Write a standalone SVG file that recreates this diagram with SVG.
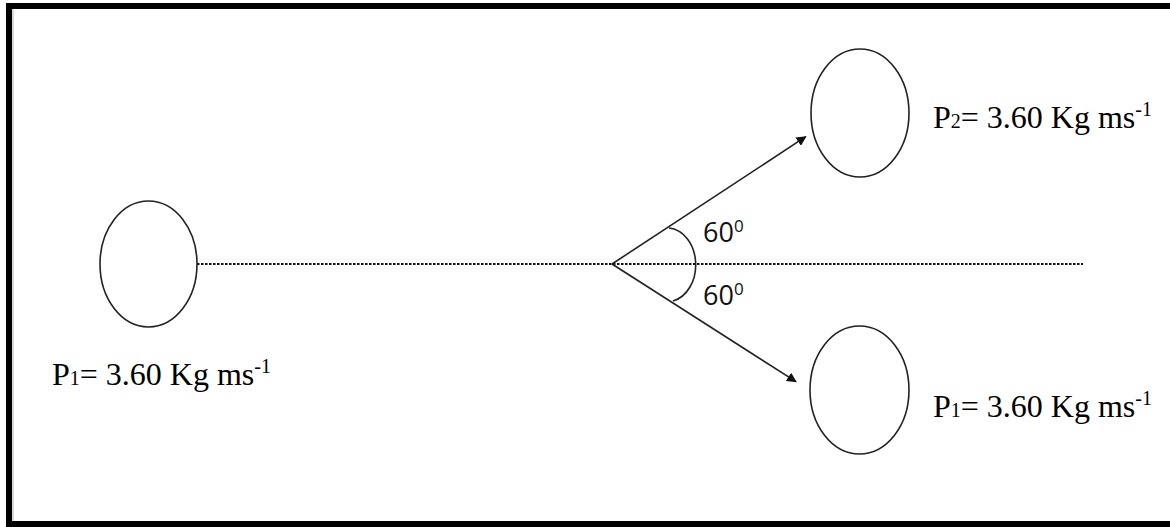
<svg xmlns="http://www.w3.org/2000/svg" width="1170" height="527" viewBox="0 0 1170 527">
<defs>
<style>
.ball{fill:none;stroke:#222;stroke-width:1.6}
.lbl{font-family:"Liberation Serif","Times New Roman",serif;font-size:32px;fill:#000}
.ang{font-family:"Open Sans","Liberation Sans",Arial,sans-serif;font-size:27px;fill:#111}
.line{stroke:#222;stroke-width:1.6;fill:none}
</style>
<marker id="arr" viewBox="0 0 10 10" refX="9" refY="5" markerWidth="10" markerHeight="10" markerUnits="userSpaceOnUse" orient="auto">
<path d="M0,0 L10,5 L0,10 z" fill="#111"/>
</marker>
</defs>
<rect width="1170" height="527" fill="#fff"/>
<g id="frame">
<rect x="6" y="3" width="1164" height="6" fill="#000"/>
<rect x="6" y="3" width="6" height="524" fill="#000"/>
<rect x="6" y="521" width="1164" height="6" fill="#000"/>
<line x1="13" y1="9" x2="13" y2="521" stroke="#ccc" stroke-width="1.5"/>
</g>
<g id="connectors">
<line x1="197" y1="264" x2="1083" y2="264" stroke="#111" stroke-width="1.8" stroke-dasharray="2.5,1.5"/>
<line class="line" x1="612" y1="264" x2="805.7" y2="136.7" marker-end="url(#arr)"/>
<line class="line" x1="612" y1="264" x2="796" y2="381.7" marker-end="url(#arr)"/>
<path class="line" d="M669,228 A29,37 0 0 1 673,301"/>
</g>
<g id="ball-left">
<ellipse class="ball" cx="148.5" cy="264" rx="48.5" ry="63"/>
<text class="lbl" x="52" y="385">P<tspan font-size="20">1</tspan>= 3.60 Kg ms<tspan font-size="20" dy="-12">-1</tspan></text>
</g>
<g id="ball-top">
<ellipse class="ball" cx="860" cy="113" rx="49" ry="64"/>
<text class="lbl" x="933" y="128">P<tspan font-size="20">2</tspan>= 3.60 Kg ms<tspan font-size="20" dy="-12">-1</tspan></text>
</g>
<g id="ball-bottom">
<ellipse class="ball" cx="859.5" cy="390" rx="49.5" ry="64"/>
<text class="lbl" x="933" y="417">P<tspan font-size="20">1</tspan>= 3.60 Kg ms<tspan font-size="20" dy="-12">-1</tspan></text>
</g>
<g id="angle-labels">
<text class="ang" x="703" y="242">60<tspan font-size="17" dy="-10">0</tspan></text>
<text class="ang" x="703" y="305">60<tspan font-size="17" dy="-10">0</tspan></text>
</g>
</svg>
